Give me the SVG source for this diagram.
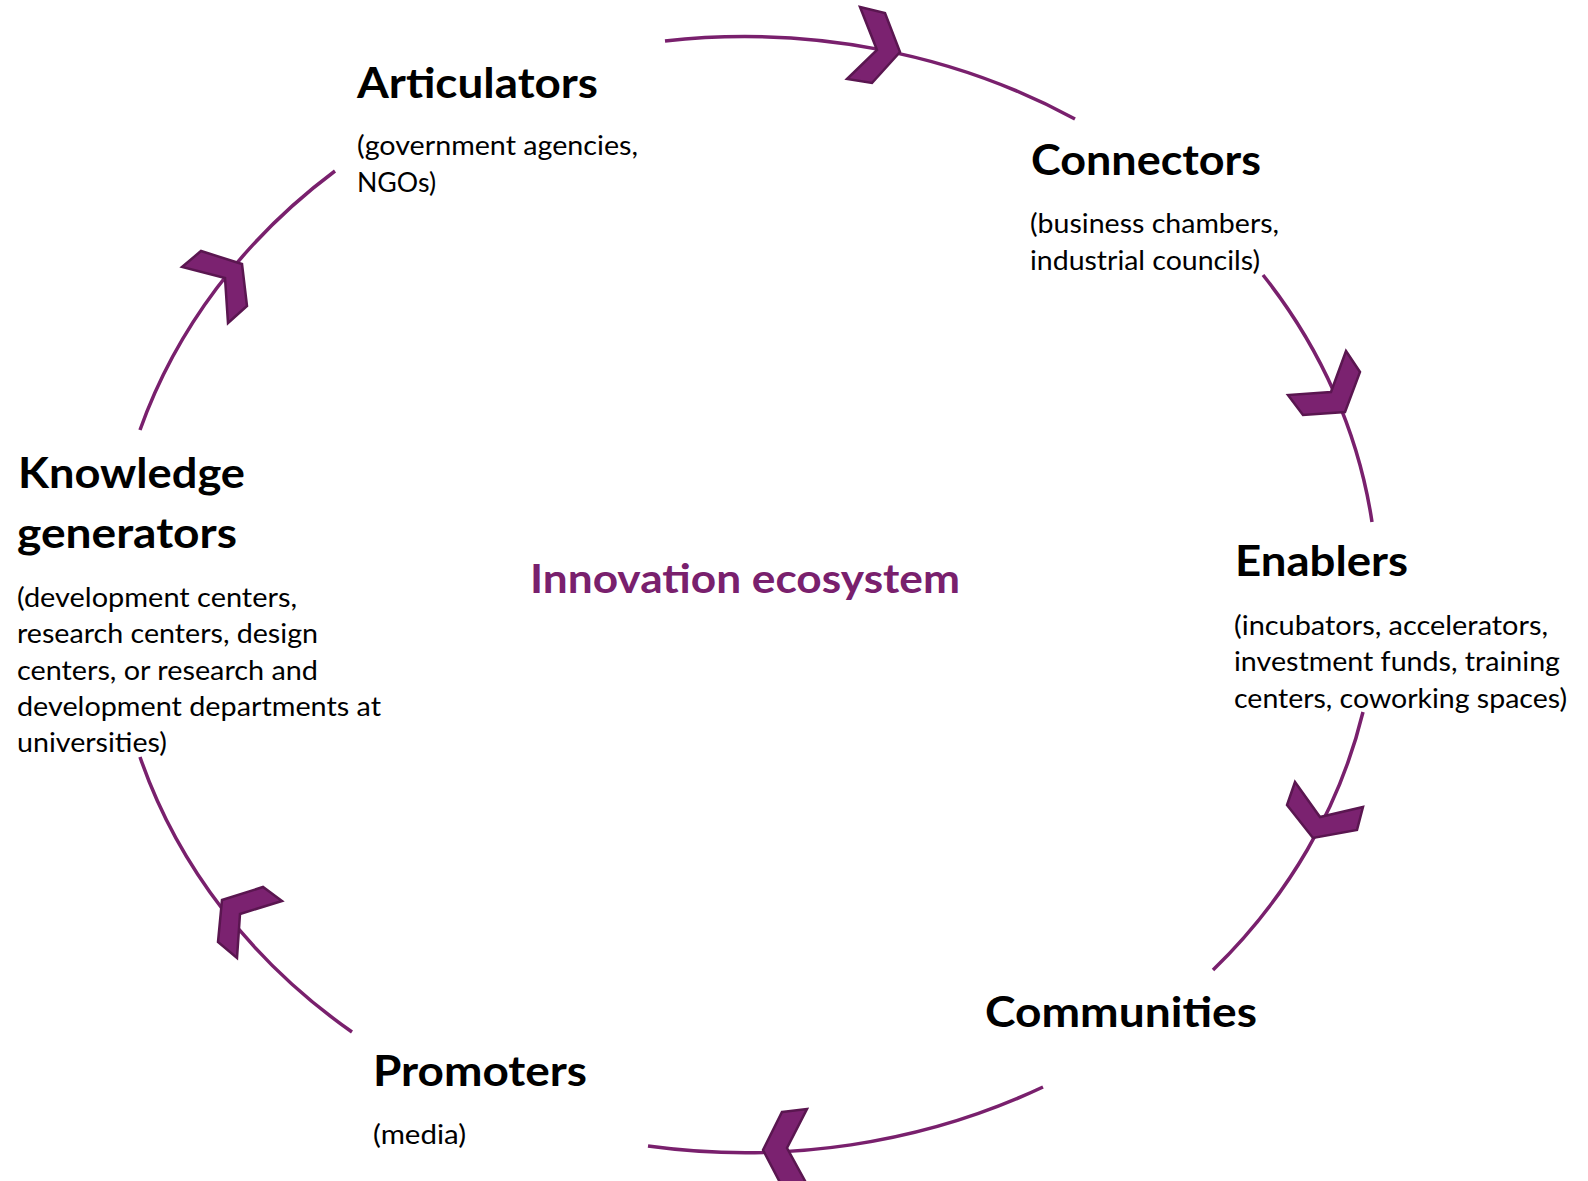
<svg xmlns="http://www.w3.org/2000/svg" width="1588" height="1181" viewBox="0 0 1588 1181">
<style>
.arc{fill:none;stroke:#79206d;stroke-width:3.5}
.chev{fill:#7b2270;stroke:#5a1650;stroke-width:2.5;stroke-linejoin:miter}
.t{font-family:Lato,"Open Sans","Liberation Sans",sans-serif;font-weight:bold;font-size:42px;fill:#000}
.s{font-family:Lato,"Open Sans","Liberation Sans",sans-serif;font-size:26px;fill:#000}
.c{font-family:Lato,"Open Sans","Liberation Sans",sans-serif;font-weight:bold;font-size:40px;fill:#79206d}
</style>
<rect width="1588" height="1181" fill="#fff"/>
<g id="connectors">
<path class="arc" d="M665,41 A632,558 0 0 1 1075,119"/>
<path class="arc" d="M1263,275 A632,558 0 0 1 1372,522"/>
<path class="arc" d="M1363,712 A632,558 0 0 1 1213,970"/>
<path class="arc" d="M1043,1087 A632,558 0 0 1 648,1146"/>
<path class="arc" d="M352,1032 A632,558 0 0 1 140,757"/>
<path class="arc" d="M140,430 A632,558 0 0 1 335,171"/>
<polygon class="chev" points="860,7 885,13 900,52 872,83 847,79 877,50"/>
<polygon class="chev" points="1346,351 1360,372 1345,412 1303,415 1288,395 1331,392"/>
<polygon class="chev" points="1295,782 1320,817 1363,807 1357,830 1313,838 1287,805"/>
<polygon class="chev" points="782,1112 807,1109 787,1148 810,1190 785,1192 763,1150"/>
<polygon class="chev" points="222,900 263,887 282,901 240,914 237,958 218,942"/>
<polygon class="chev" points="182,267 201,251 242,264 247,306 228,323 225,278"/>
</g>
<g id="center">
<text class="c" x="530" y="593" textLength="430" lengthAdjust="spacingAndGlyphs">Innovation ecosystem</text>
</g>
<g id="articulators">
<text class="t" x="357" y="98" textLength="241" lengthAdjust="spacingAndGlyphs">Articulators</text>
<text class="s" x="357" y="155" textLength="281" lengthAdjust="spacingAndGlyphs">(government agencies,</text>
<text class="s" x="357" y="192" textLength="79" lengthAdjust="spacingAndGlyphs">NGOs)</text>
</g>
<g id="connectors-node">
<text class="t" x="1031" y="175" textLength="230" lengthAdjust="spacingAndGlyphs">Connectors</text>
<text class="s" x="1030" y="233" textLength="249" lengthAdjust="spacingAndGlyphs">(business chambers,</text>
<text class="s" x="1030" y="270" textLength="230" lengthAdjust="spacingAndGlyphs">industrial councils)</text>
</g>
<g id="enablers">
<text class="t" x="1235" y="576" textLength="173" lengthAdjust="spacingAndGlyphs">Enablers</text>
<text class="s" x="1234" y="635" textLength="314" lengthAdjust="spacingAndGlyphs">(incubators, accelerators,</text>
<text class="s" x="1234" y="671" textLength="326" lengthAdjust="spacingAndGlyphs">investment funds, training</text>
<text class="s" x="1234" y="708" textLength="333" lengthAdjust="spacingAndGlyphs">centers, coworking spaces)</text>
</g>
<g id="communities">
<text class="t" x="985" y="1027" textLength="272" lengthAdjust="spacingAndGlyphs">Communities</text>
</g>
<g id="promoters">
<text class="t" x="373" y="1086" textLength="214" lengthAdjust="spacingAndGlyphs">Promoters</text>
<text class="s" x="373" y="1144" textLength="93" lengthAdjust="spacingAndGlyphs">(media)</text>
</g>
<g id="knowledge-generators">
<text class="t" x="18" y="488" textLength="227" lengthAdjust="spacingAndGlyphs">Knowledge</text>
<text class="t" x="17" y="548" textLength="220" lengthAdjust="spacingAndGlyphs">generators</text>
<text class="s" x="17" y="607" textLength="280" lengthAdjust="spacingAndGlyphs">(development centers,</text>
<text class="s" x="17" y="643" textLength="301" lengthAdjust="spacingAndGlyphs">research centers, design</text>
<text class="s" x="17" y="680" textLength="301" lengthAdjust="spacingAndGlyphs">centers, or research and</text>
<text class="s" x="17" y="716" textLength="364" lengthAdjust="spacingAndGlyphs">development departments at</text>
<text class="s" x="17" y="752" textLength="150" lengthAdjust="spacingAndGlyphs">universities)</text>
</g>
</svg>
